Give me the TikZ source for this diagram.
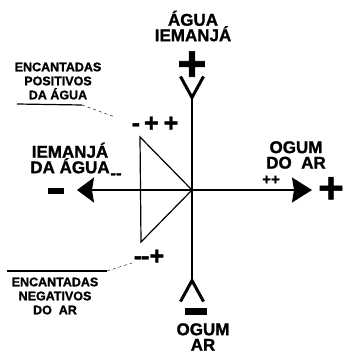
\documentclass[tikz,border=0pt]{standalone}
\usepackage{fontspec}
\setmainfont{Liberation Sans}[BoldFeatures={FakeBold=1.3}]
\usetikzlibrary{arrows.meta}
\tikzset{
  biglabel/.style={font=\bfseries\fontsize{17}{15.5}\selectfont, align=center, inner sep=0pt},
  smalllabel/.style={font=\bfseries\fontsize{12.5}{14}\selectfont, align=center, inner sep=0pt},
  signlabel/.style={font=\bfseries\fontsize{25}{25}\selectfont, inner sep=0pt},
  bigplus/.style={font=\bfseries\fontsize{50}{50}\selectfont, inner sep=0pt},
  minusbar/.style={fill=black, inner sep=0pt},
  axis/.style={line width=1.5pt},
  leader/.style={line width=1.2pt},
}
\begin{document}
\begin{tikzpicture}[x=1pt,y=-1pt]
  \useasboundingbox (0,0) rectangle (343,356);
  % eixos
  \coordinate (O) at (192,190);
  \coordinate (N) at (192,75);
  \coordinate (S) at (192,303);
  \coordinate (W) at (77,190);
  \coordinate (E) at (312,190);
  \draw[axis, {Straight Barb[reversed,length=21pt,width=23pt,line width=3pt]}-{Straight Barb[reversed,length=21pt,width=23pt,line width=3pt]}] (S) -- (N);
  \draw[axis, {Stealth[length=17pt,width=25pt,inset=2pt]}-{Stealth[length=20pt,width=25pt,inset=2pt]}] (W) -- (E);
  % triangulos
  \coordinate (T1) at (140,137);
  \coordinate (T2) at (141,242);
  \draw[line width=1.2pt] (T1) -- (T2) -- (O) -- cycle;
  % sinais
  \node[bigplus] (plusN) at (192,66) {+};
  \node[bigplus, font=\bfseries\fontsize{44}{44}\selectfont] (plusE) at (331,190) {+};
  \node[minusbar, minimum width=16pt, minimum height=6pt] (minusW) at (56,191) {};
  \node[minusbar, minimum width=22pt, minimum height=7pt] (minusS) at (196,311) {};
  % rotulos
  \node[biglabel] (lblN) at (193,26) {ÁGUA\\IEMANJÁ};
  \node[biglabel] (lblW) at (70,158) {IEMANJÁ\\DA ÁGUA};
  \node[biglabel] (lblE) at (296,155) {OGUM\\DO\ \ AR};
  \node[biglabel] (lblS) at (203,337) {OGUM\\AR};
  \node[smalllabel] (encP) at (58,81) {ENCANTADAS\\POSITIVOS\\DA ÁGUA};
  \node[smalllabel] (encN) at (55,296) {ENCANTADAS\\NEGATIVOS\\DO\ \ AR};
  \node[signlabel] (sgnP) at (155,124) {-\hspace{4pt}+\hspace{5pt}+};
  \node[signlabel] (sgnN) at (149,257) {-\kern-1pt-{}+};
  \node[signlabel, font=\bfseries\fontsize{17}{17}\selectfont] (sgnW) at (116,176) {-{}-};
  \node[signlabel, font=\bfseries\fontsize{15}{15}\selectfont] (sgnE) at (271,180) {++};
  % linhas de chamada
  \coordinate (p1) at (17,104);
  \coordinate (p2) at (82,105);
  \coordinate (p3) at (115,117);
  \draw[leader] (p1) -- (p2);
  \draw[thin, dashed] (p2) -- (p3);
  \coordinate (q1) at (7,271);
  \coordinate (q2) at (107,271);
  \coordinate (q3) at (132,263);
  \draw[leader] (q1) -- (q2);
  \draw[thin, dashed] (q2) -- (q3);
\end{tikzpicture}
\end{document}
